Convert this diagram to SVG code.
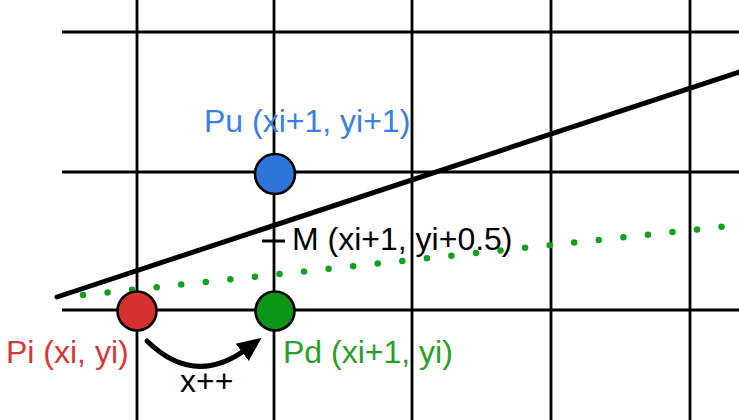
<svg xmlns="http://www.w3.org/2000/svg" width="739" height="420" viewBox="0 0 739 420">
  <style>
    .grid { stroke: #000; stroke-width: 2.8; fill: none; }
    .pt { stroke: #000; stroke-width: 2.6; }
    .lbl { font-family: "Liberation Sans", Arial, sans-serif; font-size: 32px; }
  </style>
  <defs>
    <marker id="ah" markerUnits="userSpaceOnUse" markerWidth="24" markerHeight="24" viewBox="0 0 20 20" refX="6" refY="10" orient="auto">
      <path d="M0,1 L20,10 L0,19 Z" fill="#000"/>
    </marker>
  </defs>
  <rect width="739" height="420" fill="#fff"/>
  <g id="grid">
    <line class="grid" x1="62" y1="32" x2="739" y2="32"/>
    <line class="grid" x1="62" y1="172" x2="739" y2="172"/>
    <line class="grid" x1="62" y1="310" x2="739" y2="310"/>
    <line class="grid" x1="137" y1="0" x2="137" y2="420"/>
    <line class="grid" x1="274" y1="0" x2="274" y2="420"/>
    <line class="grid" x1="412" y1="0" x2="412" y2="420"/>
    <line class="grid" x1="551" y1="0" x2="551" y2="420"/>
    <line class="grid" x1="690" y1="0" x2="690" y2="420"/>
  </g>
  <g id="connectors">
    <line x1="57" y1="297" x2="739" y2="72" stroke="#000" stroke-width="5" stroke-linecap="round"/>
    <line x1="83" y1="295" x2="739" y2="225" stroke="#10a020" stroke-width="6.5" stroke-linecap="round" stroke-dasharray="0 24.7"/>
    <line x1="262" y1="241" x2="285" y2="241" stroke="#000" stroke-width="3"/>
    <path d="M147,341 Q195,388 248,348" fill="none" stroke="#000" stroke-width="5" stroke-linecap="round" marker-end="url(#ah)"/>
  </g>
  <g id="Pu">
    <circle class="pt" cx="275" cy="174" r="20" fill="#2f74d8"/>
    <text class="lbl" x="204" y="132" fill="#3a80e0" font-size="31">Pu (xi+1, yi+1)</text>
  </g>
  <g id="M">
    <text class="lbl" x="292" y="250" fill="#000">M (xi+1, yi+0.5)</text>
  </g>
  <g id="Pi">
    <circle class="pt" cx="137" cy="311" r="19.5" fill="#d52f2f"/>
    <text class="lbl" x="6" y="363" fill="#d43838">Pi (xi, yi)</text>
  </g>
  <g id="Pd">
    <circle class="pt" cx="275" cy="311" r="19.5" fill="#0b9618"/>
    <text class="lbl" x="283" y="363" fill="#2a9e2a" font-size="31">Pd (xi+1, yi)</text>
  </g>
  <g id="xpp">
    <text class="lbl" x="180" y="392" font-size="23" fill="#000">x++</text>
  </g>
</svg>
